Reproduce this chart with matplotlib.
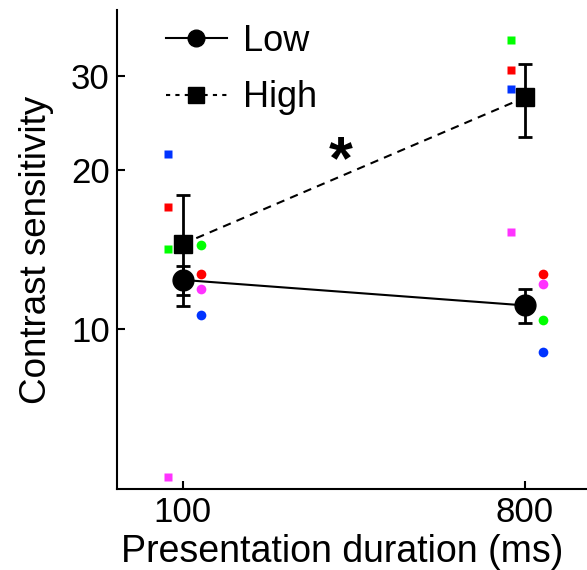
import matplotlib
matplotlib.use("Agg")
import matplotlib.pyplot as plt
from matplotlib.lines import Line2D
import numpy as np

plt.rcParams['font.family'] = ['Liberation Sans', 'DejaVu Sans']

durations = ['100', '800']

# group means and SE (contrast sensitivity)
low_mean = [12.4, 11.1]
low_err = [0.8, 0.8]
high_mean = [14.5, 27.4]
high_err = [3.45, 4.3]

# individual observers
obs_colors = ['#0033ff', '#ff0000', '#00ff00', '#ff33ff']
low_obs = [[10.67, 12.7, 14.45, 11.9],
           [9.05, 12.7, 10.4, 12.2]]
high_obs = [[21.4, 17.0, 14.2, 5.26],
            [28.4, 30.9, 35.2, 15.3]]

x = np.arange(len(durations))

fig = plt.figure(figsize=(5.87, 5.70), dpi=100)
ax = fig.add_axes([0.199, 0.142, 0.801, 0.840])

# individual points
for i in range(len(durations)):
    for j, c in enumerate(obs_colors):
        ax.plot(x[i] - 0.042, high_obs[i][j], 's', color=c, ms=6, mec='none', zorder=2)
        ax.plot(x[i] + 0.052, low_obs[i][j], 'o', color=c, ms=7, mec='none', zorder=2)

ax.errorbar(x, low_mean, yerr=low_err, fmt='-o', color='black', lw=1.5,
            ms=15, elinewidth=2, capsize=5, capthick=2, zorder=4)
ax.errorbar(x, high_mean, yerr=high_err, fmt='--s', color='black', lw=1.5,
            ms=13, elinewidth=2, capsize=5, capthick=2,
            dashes=(4, 3), zorder=3)

ax.text(0.46, 20.6, '*', fontsize=44, fontweight='bold', ha='center', va='center')

ax.set_yscale('log')
ax.set_ylim(5, 40)
ax.set_xlim(-0.193, 1.181)
ax.set_yticks([10, 20, 30])
ax.set_yticklabels(['10', '20', '30'])
ax.yaxis.set_minor_locator(matplotlib.ticker.NullLocator())
ax.set_xticks(x)
ax.set_xticklabels(durations)

ax.spines['top'].set_visible(False)
ax.spines['right'].set_visible(False)
ax.spines['left'].set_linewidth(1.5)
ax.spines['bottom'].set_linewidth(1.5)
ax.tick_params(direction='in', length=6, width=1.5, labelsize=25, pad=5)

ax.set_xlabel('Presentation duration (ms)', fontsize=27)
ax.xaxis.set_label_coords(0.479, -0.093)
ax.set_ylabel('Contrast sensitivity', fontsize=26.5, labelpad=12)

handles = [Line2D([], [], color='black', lw=1.5, marker='o', ms=12),
           Line2D([], [], color='black', lw=1.5, ls=(0, (2, 2.5)), marker='s', ms=11)]
ax.legend(handles, ['Low', 'High'], loc='upper left', bbox_to_anchor=(0.035, 1.04),
          frameon=False, fontsize=26, handlelength=1.7, handletextpad=0.45,
          labelspacing=0.6)

fig.savefig('out.png', dpi=100)
